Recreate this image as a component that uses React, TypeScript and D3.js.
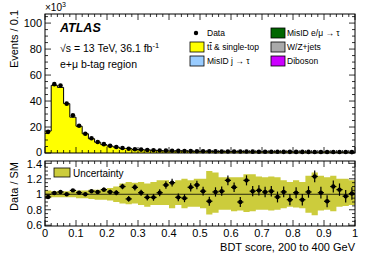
import React from 'react';
import * as d3 from 'd3';

// BDT score bins, width 0.02 from 0 to 1
const binWidth = 0.02;

// events per bin (x10^3)
const dataEvents = [16.3, 53, 52, 38, 29, 21, 14.8, 11.4, 8.5, 6.8, 5.5, 4.6, 3.8, 3.3, 2.9, 2.6, 2.3, 2.1, 1.9, 1.8,
  1.7, 1.6, 1.5, 1.45, 1.4, 1.35, 1.3, 1.25, 1.2, 1.2, 1.15, 1.1, 1.1, 1.05, 1.0, 1.0, 0.95, 0.95, 0.9, 0.9,
  0.85, 0.85, 0.85, 0.8, 0.8, 0.8, 0.75, 0.75, 0.75, 0.7];

// ttbar & single-top prediction (x10^3), the only visible stack component
const ttbarEvents = [16.9, 52.1, 50.5, 38, 27.6, 20.6, 14.8, 11.0, 8.3, 6.4, 5.3, 4.5, 3.5, 3.5, 2.7, 2.55, 2.4, 2.2, 1.85, 1.6,
  1.5, 1.65, 1.6, 1.35, 1.25, 1.3, 1.4, 1.2, 1.15, 1.0, 1.05, 1.2, 0.95, 1.0, 0.95, 0.97, 0.92, 0.98, 0.88, 0.97,
  0.83, 0.91, 0.83, 0.65, 0.78, 0.88, 0.68, 0.71, 0.77, 0.69];

// Data / SM ratio and its error
const ratio = [0.965, 1.017, 1.03, 1.0, 1.05, 1.02, 1.0, 1.04, 1.03, 1.06, 1.03, 1.02, 1.10, 0.94, 1.09, 1.02, 0.96, 0.96, 1.02, 1.12,
  1.15, 0.96, 0.95, 1.09, 1.12, 1.04, 0.91, 1.03, 1.04, 1.18, 1.09, 0.90, 1.18, 1.04, 1.05, 1.03, 1.04, 0.965, 1.03, 0.93,
  1.02, 0.93, 1.03, 1.23, 1.02, 0.91, 1.10, 1.06, 0.975, 1.01];
const ratioErr = [0.015, 0.01, 0.01, 0.012, 0.015, 0.018, 0.02, 0.022, 0.025, 0.028, 0.03, 0.032, 0.035, 0.037, 0.04, 0.04, 0.042, 0.044, 0.046, 0.048,
  0.05, 0.05, 0.052, 0.054, 0.055, 0.056, 0.058, 0.06, 0.06, 0.062, 0.062, 0.064, 0.065, 0.066, 0.066, 0.068, 0.068, 0.07, 0.07, 0.072,
  0.072, 0.074, 0.074, 0.076, 0.076, 0.078, 0.078, 0.08, 0.08, 0.08];

// uncertainty band edges (ratio units)
const bandUp = [1.05, 1.04, 1.04, 1.04, 1.04, 1.05, 1.05, 1.06, 1.06, 1.07, 1.08, 1.10, 1.14, 1.16, 1.15, 1.16, 1.14, 1.16, 1.18, 1.18,
  1.16, 1.18, 1.20, 1.18, 1.20, 1.20, 1.30, 1.28, 1.22, 1.22, 1.22, 1.22, 1.26, 1.26, 1.23, 1.22, 1.23, 1.22, 1.18, 1.16,
  1.18, 1.16, 1.24, 1.28, 1.24, 1.22, 1.24, 1.20, 1.20, 1.18];
const bandDown = [0.95, 0.96, 0.96, 0.96, 0.96, 0.95, 0.95, 0.94, 0.93, 0.93, 0.92, 0.90, 0.88, 0.87, 0.88, 0.86, 0.84, 0.86, 0.86, 0.86,
  0.82, 0.86, 0.82, 0.84, 0.84, 0.82, 0.74, 0.76, 0.80, 0.80, 0.78, 0.79, 0.77, 0.78, 0.80, 0.80, 0.79, 0.80, 0.82, 0.84,
  0.83, 0.82, 0.76, 0.73, 0.79, 0.80, 0.78, 0.84, 0.85, 0.86];

const legendLeft = [
  { label: 'Data', kind: 'marker', color: '#000' },
  { label: 'tt', kind: 'box', color: '#ffff00' },
  { label: 'MisID j \u2192 \u03c4', kind: 'box', color: '#99ccff' },
];
const legendRight = [
  { label: 'MisID e/\u03bc \u2192 \u03c4', color: '#006600' },
  { label: 'W/Z+jets', color: '#aaaaaa' },
  { label: 'Diboson', color: '#cc00ff' },
];

const xTicks = [0, 0.1, 0.2, 0.3, 0.4, 0.5, 0.6, 0.7, 0.8, 0.9, 1];
const topTicks = [0, 20, 40, 60, 80, 100];
const ratioTicks = [0.6, 0.8, 1, 1.2, 1.4];

const font = 'Liberation Sans, Arial, Helvetica, sans-serif';
const bandColor = '#cccc3c';

export default function App() {
  const W = 374, H = 268;
  const x = d3.scaleLinear().domain([0, 1]).range([45, 355]);
  const yTop = d3.scaleLinear().domain([0, 107]).range([153, 14]);
  const yRat = d3.scaleLinear().domain([0.59, 1.43]).range([226, 161]);

  const bins = dataEvents.map((d, i) => ({ lo: i * binWidth, hi: (i + 1) * binWidth, mid: (i + 0.5) * binWidth, i }));

  const stepPts: [number, number][] = bins.map(b => [b.lo, ttbarEvents[b.i]]);
  stepPts.push([1, ttbarEvents[ttbarEvents.length - 1]]);
  const area = d3.area<[number, number]>().x(d => x(d[0])).y0(yTop(0)).y1(d => yTop(d[1])).curve(d3.curveStepAfter);
  const line = d3.line<[number, number]>().x(d => x(d[0])).y(d => yTop(d[1])).curve(d3.curveStepAfter);

  const band = d3.area<any>()
    .x(d => x(d.x)).y0(d => yRat(d.lo)).y1(d => yRat(d.hi)).curve(d3.curveStepAfter);
  const bandData = bins.map(b => ({ x: b.lo, lo: bandDown[b.i], hi: bandUp[b.i] }));
  bandData.push({ x: 1, lo: bandDown[bandDown.length - 1], hi: bandUp[bandUp.length - 1] });

  const minorX = d3.range(0, 1.0001, 0.02);
  const minorTop = d3.range(0, 107, 5);
  const minorRat = d3.range(0.6, 1.43, 0.05);

  const frame = (y0: number, y1: number, yS: d3.ScaleLinear<number, number>, majors: number[], minors: number[], maj: number, min: number) => (
    <g>
      <rect x={45} y={y1} width={310} height={y0 - y1} fill="none" stroke="#000" strokeWidth={1} />
      {minorX.map((t, k) => {
        const isMaj = Math.abs(t * 10 - Math.round(t * 10)) < 1e-6;
        const l = isMaj ? maj : min;
        return (
          <g key={'x' + k}>
            <line x1={x(t)} x2={x(t)} y1={y0} y2={y0 - l} stroke="#000" strokeWidth={0.8} />
            <line x1={x(t)} x2={x(t)} y1={y1} y2={y1 + l} stroke="#000" strokeWidth={0.8} />
          </g>
        );
      })}
      {minors.map((t, k) => {
        const isMaj = majors.some(m => Math.abs(m - t) < 1e-6);
        const l = isMaj ? maj : min;
        return (
          <g key={'y' + k}>
            <line x1={45} x2={45 + l} y1={yS(t)} y2={yS(t)} stroke="#000" strokeWidth={0.8} />
            <line x1={355} x2={355 - l} y1={yS(t)} y2={yS(t)} stroke="#000" strokeWidth={0.8} />
          </g>
        );
      })}
    </g>
  );

  return (
    <svg width={W} height={H} style={{ position: 'absolute', left: 0, top: 0, background: '#fff' }} fontFamily={font}>
      {/* top panel */}
      <path d={area(stepPts) || ''} fill="#ffff00" />
      <path d={line(stepPts) || ''} fill="none" stroke="#000" strokeWidth={1} />
      {bins.map(b => (
        <circle key={'d' + b.i} cx={x(b.mid)} cy={yTop(dataEvents[b.i])} r={2.3} fill="#000" />
      ))}
      {frame(153, 14, yTop, topTicks, minorTop, 6, 3)}
      {topTicks.map(t => (
        <text key={'yt' + t} x={42} y={yTop(t) + (t === 0 ? 2.5 : 4)} fontSize={11} textAnchor="end">{t}</text>
      ))}
      <text x={45} y={11} fontSize={10}>{'\u00d710'}<tspan dy={-4} fontSize={7}>3</tspan></text>
      <text x={18} y={10} fontSize={11} textAnchor="end" transform="rotate(-90,18,10)">Events / 0.1</text>

      <text x={60} y={32} fontSize={12.5} fontWeight="bold" fontStyle="italic">ATLAS</text>
      <text x={60} y={52} fontSize={10.5}>{'\u221as = 13 TeV, 36.1 fb'}<tspan dy={-4} fontSize={7.5}>-1</tspan></text>
      <text x={60} y={68} fontSize={10.5}>{'e+\u03bc b-tag region'}</text>

      {legendLeft.map((d, k) => {
        const cy = 33 + k * 14;
        return (
          <g key={'ll' + k}>
            {d.kind === 'marker'
              ? <circle cx={196} cy={cy} r={2.2} fill="#000" />
              : <rect x={190} y={cy - 5} width={14} height={10} fill={d.color} stroke="#000" strokeWidth={0.8} />}
            <text x={207} y={cy + 3} fontSize={8.5}>
              {k === 1
                ? <>t<tspan style={{ textDecoration: 'overline' }}>t</tspan> &amp; single-top</>
                : d.label}
            </text>
          </g>
        );
      })}
      {legendRight.map((d, k) => {
        const cy = 33 + k * 14;
        return (
          <g key={'lr' + k}>
            <rect x={271} y={cy - 5} width={14} height={10} fill={d.color} stroke="#000" strokeWidth={0.8} />
            <text x={287} y={cy + 3} fontSize={8.5}>{d.label}</text>
          </g>
        );
      })}

      {/* ratio panel */}
      <path d={band(bandData) || ''} fill={bandColor} />
      <line x1={x(0)} x2={x(1)} y1={yRat(1)} y2={yRat(1)} stroke="#000" strokeWidth={0.8} />
      {bins.map(b => {
        const cx = x(b.mid), cy = yRat(ratio[b.i]);
        return (
          <g key={'r' + b.i}>
            <line x1={cx} x2={cx} y1={yRat(ratio[b.i] - ratioErr[b.i])} y2={yRat(ratio[b.i] + ratioErr[b.i])} stroke="#000" strokeWidth={1.2} />
            <line x1={x(b.lo)} x2={x(b.hi)} y1={cy} y2={cy} stroke="#000" strokeWidth={1.2} />
            <circle cx={cx} cy={cy} r={2.2} fill="#000" />
          </g>
        );
      })}
      {frame(226, 161, yRat, ratioTicks, minorRat, 6, 3)}
      {ratioTicks.map(t => (
        <text key={'rt' + t} x={42} y={yRat(t) + (t === 1.4 ? 5 : 4)} fontSize={11} textAnchor="end">{t}</text>
      ))}
      <text x={18} y={162} fontSize={11} textAnchor="end" transform="rotate(-90,18,162)">Data / SM</text>
      <rect x={54} y={168} width={16} height={9} fill={bandColor} stroke="#000" strokeWidth={0.8} />
      <text x={73} y={176.5} fontSize={10}>Uncertainty</text>

      {xTicks.map(t => (
        <text key={'xt' + t} x={x(t)} y={237} fontSize={11} textAnchor="middle">{t}</text>
      ))}
      <text x={355} y={251} fontSize={11} textAnchor="end">BDT score, 200 to 400 GeV</text>
    </svg>
  );
}
